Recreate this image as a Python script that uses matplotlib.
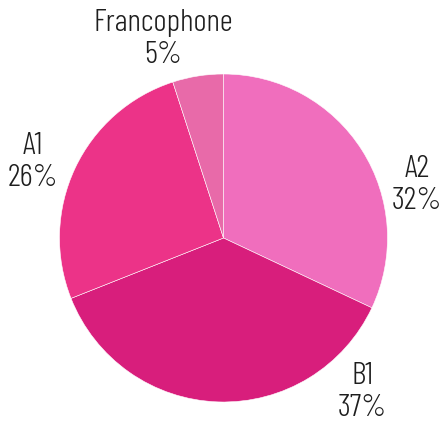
import matplotlib.pyplot as plt

labels = ['A2', 'B1', 'A1', 'Francophone']
shares = [32, 37, 26, 5]
colors = ['#f06ebd', '#d81e7c', '#ec3388', '#e86aa9']

# label anchor points (pixels, y from the bottom)
labelPos = [(417, 239), (362, 32), (33, 262), (163, 385)]

fig = plt.figure(figsize=(4.42, 4.24), dpi=100)
ax = fig.add_axes([0, 0, 1, 1])

ax.pie(shares, colors=colors, startangle=90, counterclock=False,
       center=(223.5, 186), radius=164, frame=True,
       wedgeprops={'edgecolor': 'white', 'linewidth': 0.4})
ax.set_xlim(0, 442)
ax.set_ylim(0, 424)
ax.set_aspect('equal')
ax.axis('off')

for name, val, (x, y) in zip(labels, shares, labelPos):
    ax.text(x, y, '%s\n%d%%' % (name, val), ha='center', va='center',
            fontsize=23, color='#1e1e1e', linespacing=1.2,
            fontweight=300,
            family=['Barlow Condensed', 'DejaVu Sans'])

fig.savefig('out.png', dpi=100)
